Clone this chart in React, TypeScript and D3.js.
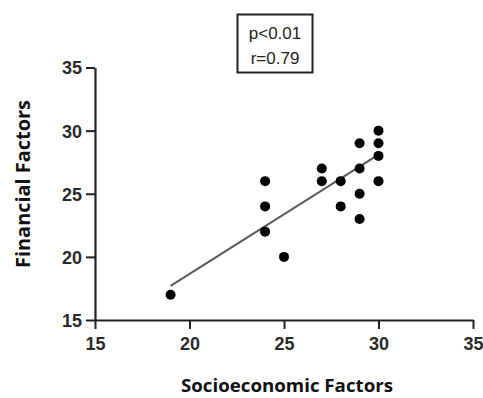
import * as d3 from "d3";
import { useEffect, useRef } from "react";

// Scatter of socioeconomic vs financial factors with a fitted line.
const socioX = [19, 24, 24, 24, 25, 27, 27, 28, 28, 29, 29, 29, 29, 30, 30, 30, 30];
const financialY = [17, 26, 24, 22, 20, 27, 26, 26, 24, 29, 27, 25, 23, 30, 29, 28, 26];
const fitX = [19, 30];
const fitY = [17.7, 28.1];
const xTicks = [15, 20, 25, 30, 35];
const yTicks = [15, 20, 25, 30, 35];
const statLines = ["p<0.01", "r=0.79"];

export default function App() {
  const svgRef = useRef<SVGSVGElement>(null);
  const w = 483;
  const h = 398;

  useEffect(() => {
    if (!svgRef.current) return;
    const svg = d3.select(svgRef.current);
    svg.selectAll("*").remove();

    const x = d3.scaleLinear().domain([15, 35]).range([95, 473]);
    const y = d3.scaleLinear().domain([15, 35]).range([320, 67.5]);
    const ink = "#222";
    const font = "'Liberation Sans', Arial, sans-serif";

    // axes
    const yAxis = svg
      .append("g")
      .attr("transform", `translate(${x(15)},0)`)
      .call(d3.axisLeft(y).tickValues(yTicks).tickSize(9).tickSizeOuter(0).tickPadding(4));
    const xAxis = svg
      .append("g")
      .attr("transform", `translate(0,${y(15)})`)
      .call(d3.axisBottom(x).tickValues(xTicks).tickSize(9).tickSizeOuter(0).tickPadding(8));
    [yAxis, xAxis].forEach((a) => {
      a.select(".domain").attr("stroke", ink).attr("stroke-width", 2.2);
      a.selectAll(".tick line").attr("stroke", ink).attr("stroke-width", 2);
      a.selectAll(".tick text")
        .attr("fill", "#2a2a2a")
        .attr("font-size", 18)
        .attr("font-weight", "bold")
        .attr("font-family", font);
    });
    yAxis.selectAll(".tick text").attr("dy", "0.36em");

    // fit line
    svg
      .append("path")
      .datum(fitX.map((v, i) => [v, fitY[i]] as [number, number]))
      .attr("d", d3.line().x((d) => x(d[0])).y((d) => y(d[1])))
      .attr("stroke", "#5a5a5a")
      .attr("stroke-width", 2)
      .attr("fill", "none");

    // points
    svg
      .selectAll("circle.pt")
      .data(socioX.map((v, i) => ({ sx: v, fy: financialY[i] })))
      .enter()
      .append("circle")
      .attr("class", "pt")
      .attr("cx", (d) => x(d.sx))
      .attr("cy", (d) => y(d.fy))
      .attr("r", 5)
      .attr("fill", "#000");

    // stats box
    svg
      .append("rect")
      .attr("x", 237.5)
      .attr("y", 14.5)
      .attr("width", 75)
      .attr("height", 58)
      .attr("fill", "#fff")
      .attr("stroke", ink)
      .attr("stroke-width", 2);
    statLines.forEach((t, i) => {
      svg
        .append("text")
        .attr("x", 275)
        .attr("y", 39 + i * 25)
        .attr("text-anchor", "middle")
        .attr("font-size", 17)
        .attr("font-family", font)
        .attr("fill", "#222")
        .text(t);
    });

    // axis titles
    svg
      .append("text")
      .attr("x", 287)
      .attr("y", 392)
      .attr("text-anchor", "middle")
      .attr("font-size", 18)
      .attr("font-weight", "bold")
      .attr("font-family", "'Open Sans', sans-serif")
      .attr("textLength", 212)
      .attr("lengthAdjust", "spacingAndGlyphs")
      .attr("fill", "#111")
      .text("Socioeconomic Factors");
    svg
      .append("text")
      .attr("transform", `translate(30,184) rotate(-90)`)
      .attr("text-anchor", "middle")
      .attr("font-size", 19)
      .attr("font-weight", "bold")
      .attr("font-family", "'Open Sans', sans-serif")
      .attr("textLength", 168)
      .attr("lengthAdjust", "spacingAndGlyphs")
      .attr("fill", "#111")
      .text("Financial Factors");
  }, []);

  return (
    <svg
      ref={svgRef}
      width={w}
      height={h}
      viewBox={`0 0 ${w} ${h}`}
      style={{ position: "absolute", left: 0, top: 0, background: "#fff" }}
    />
  );
}
